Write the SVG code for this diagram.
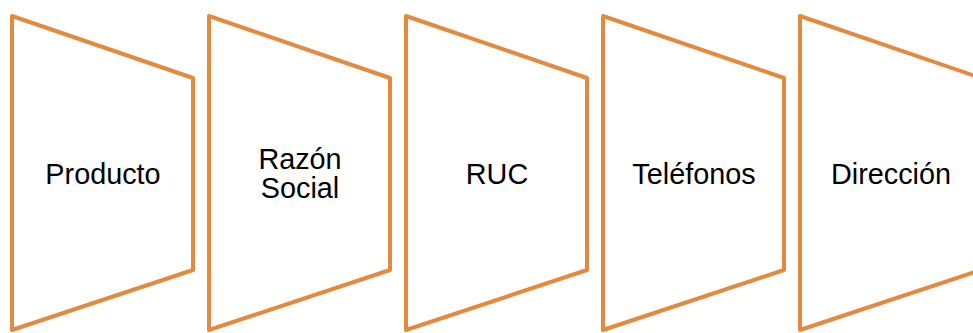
<svg xmlns="http://www.w3.org/2000/svg" width="973" height="333" viewBox="0 0 973 333">
<style>
.s{fill:#fff;stroke:#E48A3E;stroke-width:4;stroke-linejoin:round}
.t{font-family:"Liberation Sans",Arial,sans-serif;font-size:28.8px;fill:#000;text-anchor:middle}
</style>
<defs><polygon id="trap" points="0,16 181,78 181,270 0,330"/></defs>
<rect width="973" height="333" fill="#fff"/>
<g id="connectors"/>
<g id="n1" transform="translate(12,0)"><use href="#trap" class="s"/><text class="t" x="91" y="184">Producto</text></g>
<g id="n2" transform="translate(209,0)"><use href="#trap" class="s"/><text class="t" x="91" y="169">Razón</text><text class="t" x="91" y="198">Social</text></g>
<g id="n3" transform="translate(406,0)"><use href="#trap" class="s"/><text class="t" x="91" y="184">RUC</text></g>
<g id="n4" transform="translate(603,0)"><use href="#trap" class="s"/><text class="t" x="91" y="184">Teléfonos</text></g>
<g id="n5" transform="translate(800,0)"><use href="#trap" class="s"/><text class="t" x="91" y="184">Dirección</text></g>
</svg>
